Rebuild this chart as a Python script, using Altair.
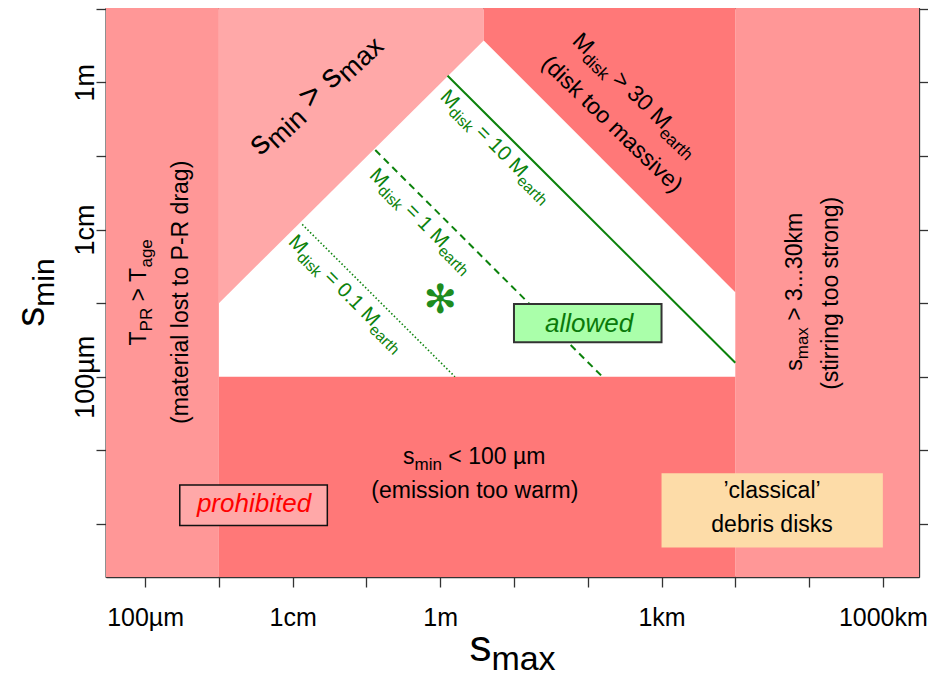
import altair as alt
import pandas as pd

FONT = "Liberation Sans, Arial, Helvetica, sans-serif"

# ---------------- axis ranges (log10 of size in metres) ----------------
x_range = [-4.53, 6.49]
y_range = [-6.72, 1.01]
x_tick_exps = [-4, -3, -2, -1, 0, 1, 2, 3, 4, 5, 6]
y_tick_exps = [-6, -5, -4, -3, -2, -1, 0, 1]
x_label_exps = [-4, -2, 0, 3, 6]
x_label_text = ["100µm", "1cm", "1m", "1km", "1000km"]
y_label_exps = [-4, -2, 0]
y_label_text = ["100µm", "1cm", "1m"]

# ---------------- region boundaries (log10 m) ----------------
pr_drag_smax = -3.0      # T_PR > T_age for s_max < 1 mm
stirring_smax = 4.0      # s_max > 10 km
warm_smin = -4.0         # s_min < 100 µm
diag_smax = [-3.0, 0.59]     # s_min = s_max
diag_smin = [-3.0, 0.57]
massive_smax = [0.59, 4.0]   # M_disk = 30 M_earth
massive_smin = [0.57, -2.85]

# ---------------- constant disk-mass lines ----------------
m10_smax = [0.10, 4.0]
m10_smin = [0.09, -3.81]
m1_smax = [-0.88, 2.20]
m1_smin = [-0.92, -4.0]
m01_smax = [-1.87, 0.20]
m01_smin = [-1.93, -4.0]

# ---------------- marked system ----------------
star_smax = [0.0]
star_smin = [-2.97]

# ---------------- boxes ----------------
allowed_box = [1.0, 3.0, -3.01, -3.53]
prohibited_box = [-3.53, -1.53, -5.47, -6.02]
classical_box = [3.0, 6.0, -5.31, -6.32]

C_SIDE = "#FF9797"
C_PINK = "#FFA8A8"
C_DARK = "#FF7878"
C_ALLOW = "#AAFFAA"
C_CLASS = "#FDDCA8"
GREEN = "#0C820C"
AXC = "#333333"

XS = alt.Scale(type="log", domain=[10 ** x_range[0], 10 ** x_range[1]], nice=False)
YS = alt.Scale(type="log", domain=[10 ** y_range[0], 10 ** y_range[1]], nice=False)


def X(axis=None):
    return alt.X("x:Q", scale=XS, axis=axis)


def Y(axis=None):
    return alt.Y("y:Q", scale=YS, axis=axis)


def p10(v):
    return [10 ** a for a in v]


def label_expr(exps, texts):
    e = "round(log(datum.value)/LN10)"
    s = "''"
    for k, t in reversed(list(zip(exps, texts))):
        s = f"({e} == {k}) ? '{t}' : {s}"
    return s


AX_COMMON = dict(grid=False, tickSize=10, tickColor=AXC, tickWidth=1.3,
                 domainColor=AXC, domainWidth=1.3, title=None,
                 labelFont=FONT, labelColor="black")

x_axis_bottom = alt.Axis(orient="bottom", values=p10(x_tick_exps),
                         labelExpr=label_expr(x_label_exps, x_label_text),
                         labelBaseline="alphabetic", labelPadding=38, labelFontSize=25,
                         labelOverlap=False, labelFlush=False, **AX_COMMON)
y_axis_left = alt.Axis(orient="left", values=p10(y_tick_exps),
                       labelExpr=label_expr(y_label_exps, y_label_text),
                       labelAngle=270, labelAlign="center", labelBaseline="alphabetic",
                       labelPadding=3, labelFontSize=27,
                       labelOverlap=False, labelFlush=False, **AX_COMMON)
x_axis_top = alt.Axis(orient="top", values=p10(x_tick_exps), labels=False, **AX_COMMON)
y_axis_right = alt.Axis(orient="right", values=p10(y_tick_exps), labels=False, **AX_COMMON)

layers = []


def rect(x0, x1, y0, y1, color, axes=False, **kw):
    df = pd.DataFrame({"x": [10 ** x0], "x2": [10 ** x1], "y": [10 ** y0], "y2": [10 ** y1]})
    return alt.Chart(df).mark_rect(color=color, **kw).encode(
        x=X(x_axis_bottom if axes else None), x2="x2:Q",
        y=Y(y_axis_left if axes else None), y2="y2:Q")


# background regions
layers.append(rect(x_range[0], pr_drag_smax, y_range[0], y_range[1], C_SIDE, axes=True))
layers.append(rect(stirring_smax, x_range[1], y_range[0], y_range[1], C_SIDE))
layers.append(rect(pr_drag_smax, stirring_smax, y_range[0], warm_smin, C_DARK))

pink_df = pd.DataFrame({"x": p10(diag_smax), "y": p10(diag_smin), "y2": [10 ** y_range[1]] * 2})
layers.append(alt.Chart(pink_df).mark_area(color=C_PINK, opacity=1).encode(x=X(), y=Y(), y2="y2:Q"))
dark_df = pd.DataFrame({"x": p10(massive_smax), "y": p10(massive_smin), "y2": [10 ** y_range[1]] * 2})
layers.append(alt.Chart(dark_df).mark_area(color=C_DARK, opacity=1).encode(x=X(), y=Y(), y2="y2:Q"))

# constant-mass lines
for xs, ys, dash, sw in [(m10_smax, m10_smin, None, 2.0),
                         (m1_smax, m1_smin, [7, 5], 2.0),
                         (m01_smax, m01_smin, [1.5, 2.2], 1.6)]:
    df = pd.DataFrame({"x": p10(xs), "y": p10(ys)})
    kw = dict(color=GREEN, strokeWidth=sw)
    if dash:
        kw["strokeDash"] = dash
    layers.append(alt.Chart(df).mark_line(**kw).encode(x=X(), y=Y()))

# boxes
layers.append(rect(*allowed_box, C_ALLOW, stroke="#333333", strokeWidth=2))
layers.append(rect(*prohibited_box, C_PINK, stroke="#111111", strokeWidth=1.5))
layers.append(rect(*classical_box, C_CLASS))

# ---------------- text helpers ----------------
W = {" ": 278, ">": 584, "<": 584, "=": 584, ".": 278, "(": 333, ")": 333, "-": 333,
     "µ": 576, "’": 222, "a": 556, "b": 556, "c": 500, "d": 556, "e": 556, "g": 556,
     "h": 556, "i": 222, "k": 500, "l": 222, "m": 833, "n": 556, "o": 556, "r": 333,
     "s": 500, "t": 278, "v": 500, "w": 722, "x": 500, "M": 833, "P": 667, "R": 722,
     "T": 611}


def tw(t):
    return sum(W.get(c, 556) for c in t) / 1000.0


def rich(lx, ly, parts, size, sub, shift, angle=0, color="black"):
    out = []
    tot = sum(tw(t) * (size if k == 0 else sub) for t, k in parts)
    cur = -tot / 2
    for t, k in parts:
        fs = size if k == 0 else sub
        lead = len(t) - len(t.lstrip(" "))
        s = t.strip(" ")
        props = dict(align="left", baseline="alphabetic", dx=cur + lead * 0.278 * fs,
                     dy=shift if k else 0, fontSize=fs, font=FONT, color=color)
        if angle:
            props["angle"] = angle
        df = pd.DataFrame({"x": [10 ** lx], "y": [10 ** ly], "t": [s]})
        out.append(alt.Chart(df).mark_text(**props).encode(x=X(), y=Y(), text="t:N"))
        cur += tw(t) * fs
    return out


def plain(lx, ly, text, size, color="black", angle=0, style="normal"):
    props = dict(align="center", baseline="alphabetic", fontSize=size, font=FONT,
                 color=color, fontStyle=style)
    if angle:
        props["angle"] = angle
    df = pd.DataFrame({"x": [10 ** lx], "y": [10 ** ly], "t": [text]})
    return alt.Chart(df).mark_text(**props).encode(x=X(), y=Y(), text="t:N")


# s_min > s_max
layers += rich(-1.621, -0.244, [("s", 0), ("min", 1), (" > s", 0), ("max", 1)], 33, 27, 6, angle=317)
# M_disk > 30 M_earth
layers += rich(2.584, -0.235, [("M", 0), ("disk", 1), (" > 30 M", 0), ("earth", 1)], 23, 17, 6, angle=44)
layers.append(plain(2.261, -0.639, "(disk too massive)", 23, angle=44))
# constant mass labels
layers += rich(0.701, -0.925, [("M", 0), ("disk", 1), (" = 10 M", 0), ("earth", 1)], 20.5, 15.5, 5, angle=45, color=GREEN)
layers += rich(-0.313, -1.936, [("M", 0), ("disk", 1), (" = 1 M", 0), ("earth", 1)], 20.5, 15.5, 5, angle=45, color=GREEN)
layers += rich(-1.328, -2.922, [("M", 0), ("disk", 1), (" = 0.1 M", 0), ("earth", 1)], 20.5, 15.5, 5, angle=45, color=GREEN)
# T_PR > T_age
layers += rich(-3.992, -2.853, [("T", 0), ("PR", 1), (" > T", 0), ("age", 1)], 23, 17, 6, angle=270)
layers.append(plain(-3.425, -2.853, "(material lost to P-R drag)", 23, angle=270))
# s_max > 3...30km
layers += rich(4.901, -2.845, [("s", 0), ("max", 1), (" > 3...30km", 0)], 23, 17, 6, angle=270)
layers.append(plain(5.393, -2.866, "(stirring too strong)", 23, angle=270))
# s_min < 100 µm
layers += rich(0.461, -5.19, [("s", 0), ("min", 1), (" < 100 µm", 0)], 23, 17, 6)
layers.append(plain(0.470, -5.652, "(emission too warm)", 23))
# boxes' text
layers.append(plain(2.017, -3.388, "allowed", 26, color="#0A7A0A", style="italic"))
layers.append(plain(-2.524, -5.834, "prohibited", 26, color="#FF0000", style="italic"))
layers.append(plain(4.498, -5.652, "’classical’", 23))
layers.append(plain(4.498, -6.114, "debris disks", 23))

# asterisk marker
star_df = pd.DataFrame({"x": p10(star_smax), "y": p10(star_smin), "t": ["✻"]})
layers.append(alt.Chart(star_df).mark_text(font="DejaVu Sans", fontSize=40, color="#1E8C1E",
                                           align="center", baseline="middle").encode(x=X(), y=Y(), text="t:N"))

# axis titles
layers += rich(0.980, -7.862, [("s", 0), ("max", 1)], 44, 34, 9)
layers += rich(-5.364, -2.855, [("s", 0), ("min", 1)], 40, 30, 10, angle=270)

# mirrored axes (ticks only)
ax_df = pd.DataFrame({"x": [1.0], "y": [1e-3]})
layers.append(alt.Chart(ax_df).mark_point(opacity=0).encode(
    x=X(x_axis_top), y=Y(y_axis_right)))

chart = alt.layer(*layers).resolve_axis(x="independent", y="independent").properties(
    width=813, height=569,
    autosize=alt.AutoSizeParams(type="none"),
    padding={"left": 98, "top": 0, "right": 9, "bottom": 101},
).configure_view(stroke=AXC, strokeWidth=1.3)

chart.save("out.html", embed_options={"renderer": "svg", "actions": False})
